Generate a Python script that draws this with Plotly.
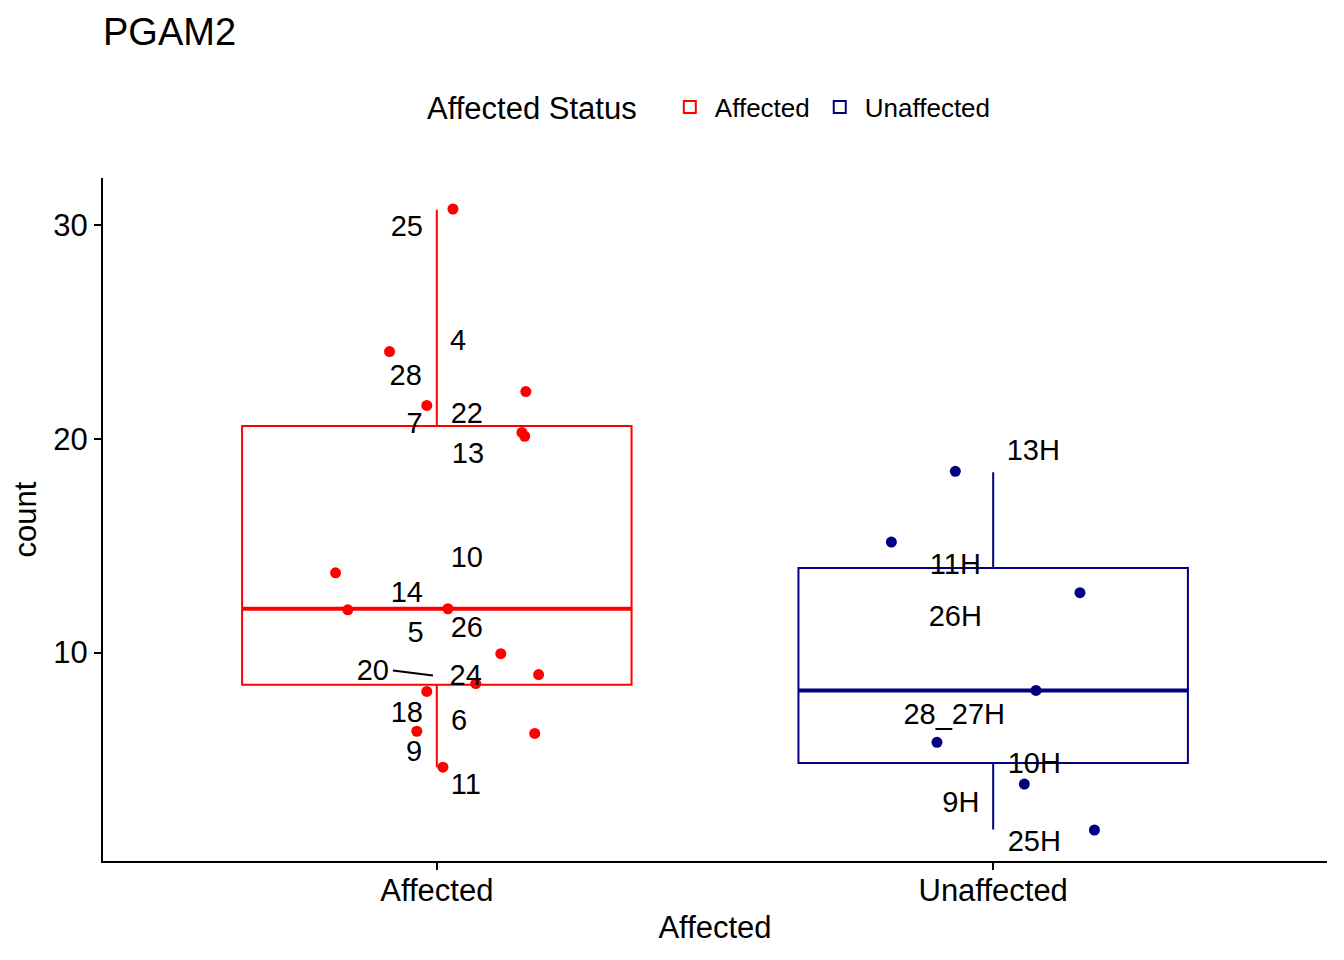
import plotly.graph_objects as go

# group positions on a numeric axis (1 = Affected, 2 = Unaffected)
groups = ["Affected", "Unaffected"]
group_pos = [1, 2]
colors = ["#FF0000", "#000080"]

# box statistics
q1 = [8.5, 4.83]
median = [12.05, 8.23]
q3 = [20.6, 13.96]
lowerfence = [4.64, 1.72]
upperfence = [30.72, 18.44]
box_width = 0.7

# jittered points
aff_x = [1.029, 0.915, 0.982, 1.160, 1.153, 1.158, 0.818, 0.840,
         1.020, 1.115, 1.183, 1.070, 0.982, 0.964, 1.176, 1.011]
aff_y = [30.75, 24.08, 21.56, 22.21, 20.30, 20.12, 13.73, 12.0,
         12.05, 9.95, 8.97, 8.55, 8.18, 6.32, 6.22, 4.64]
unaff_x = [1.932, 1.817, 2.156, 2.077, 1.899, 2.056, 2.182]
unaff_y = [18.48, 15.17, 12.80, 8.23, 5.80, 3.85, 1.70]

# repelled text labels
lab_text = ["25", "4", "28", "22", "7", "13", "10", "14", "5", "26", "20",
            "24", "18", "6", "9", "11",
            "13H", "11H", "26H", "28_27H", "10H", "9H", "25H"]
lab_x = [0.946, 1.038, 0.944, 1.054, 0.960, 1.056, 1.054, 0.946, 0.962,
         1.054, 0.885, 1.052, 0.946, 1.040, 0.959, 1.052,
         2.072, 1.932, 1.932, 1.930, 2.074, 1.942, 2.074]
lab_y = [29.82, 24.50, 22.87, 21.10, 20.59, 19.19, 14.34, 12.71, 10.84,
         11.08, 9.07, 8.84, 7.11, 6.74, 5.29, 3.71,
         19.33, 14.01, 11.59, 7.02, 4.69, 2.87, 1.05]
# leader segment for label "20"
seg_x = [0.921, 0.993]
seg_y = [9.16, 8.93]

FONT = "Liberation Sans, Arial, sans-serif"

fig = go.Figure()

for i, g in enumerate(groups):
    fig.add_trace(go.Box(
        x=[group_pos[i]], q1=[q1[i]], median=[median[i]], q3=[q3[i]],
        lowerfence=[lowerfence[i]], upperfence=[upperfence[i]],
        width=box_width, boxpoints=False, name=g, legendgroup=g,
        line=dict(color=colors[i], width=2), fillcolor="rgba(255,255,255,0)",
        whiskerwidth=0, hoverinfo="skip"))
    # thicker median line
    fig.add_trace(go.Scatter(
        x=[group_pos[i] - box_width / 2, group_pos[i] + box_width / 2],
        y=[median[i], median[i]], mode="lines",
        line=dict(color=colors[i], width=4), showlegend=False,
        legendgroup=g, hoverinfo="skip"))

fig.add_trace(go.Scatter(x=aff_x, y=aff_y, mode="markers",
                         marker=dict(color=colors[0], size=11),
                         showlegend=False, legendgroup="Affected"))
fig.add_trace(go.Scatter(x=unaff_x, y=unaff_y, mode="markers",
                         marker=dict(color=colors[1], size=11),
                         showlegend=False, legendgroup="Unaffected"))

fig.add_trace(go.Scatter(x=seg_x, y=seg_y, mode="lines",
                         line=dict(color="black", width=2),
                         showlegend=False, hoverinfo="skip"))
fig.add_trace(go.Scatter(x=lab_x, y=lab_y, mode="text", text=lab_text,
                         textfont=dict(family=FONT, size=29, color="black"),
                         showlegend=False, hoverinfo="skip"))

legend_y = 1 + 71 / 683

fig.update_layout(
    width=1344, height=960,
    paper_bgcolor="white", plot_bgcolor="white",
    font=dict(family=FONT, color="black"),
    margin=dict(l=95, r=25, t=170, b=107),
    title=dict(text="PGAM2", x=95 / 1344, xanchor="left",
               y=1 - 24 / 960, yanchor="middle",
               font=dict(size=38, color="black")),
    legend=dict(orientation="h", x=0.459, xanchor="left",
                y=legend_y, yanchor="middle", valign="middle",
                font=dict(size=26), itemwidth=40),
    showlegend=True,
)
fig.add_annotation(text="Affected Status", xref="paper", yref="paper",
                   x=0.438, xanchor="right", y=legend_y - 0.002,
                   yanchor="middle", showarrow=False,
                   font=dict(size=31, color="black"))
fig.update_xaxes(range=[0.4, 2.6], tickvals=group_pos, ticktext=groups,
                 showgrid=False, zeroline=False, showline=True,
                 linecolor="black", linewidth=2, ticks="outside",
                 ticklen=7, tickwidth=2, tickcolor="black",
                 ticklabelstandoff=-6,
                 tickfont=dict(size=31, color="black"),
                 title=dict(text="Affected", font=dict(size=31), standoff=9))
fig.update_yaxes(range=[0.25, 32.2], tickvals=[10, 20, 30],
                 showgrid=False, zeroline=False, showline=True,
                 linecolor="black", linewidth=2, ticks="outside",
                 ticklen=7, tickwidth=2, tickcolor="black",
                 tickfont=dict(size=31, color="black"),
                 title=dict(text="count", font=dict(size=31), standoff=12))

fig.write_html("out.html")
